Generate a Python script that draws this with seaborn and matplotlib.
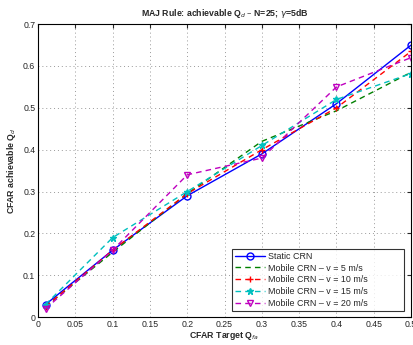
import matplotlib
matplotlib.use("Agg")
import matplotlib.pyplot as plt
import seaborn as sns
import pandas as pd

# datos
q_fa = [0.01, 0.1, 0.2, 0.3, 0.4, 0.5]
static_crn = [0.03, 0.16, 0.29, 0.39, 0.51, 0.65]
mobile_5 = [0.025, 0.155, 0.295, 0.42, 0.493, 0.585]
mobile_10 = [0.025, 0.16, 0.295, 0.40, 0.50, 0.635]
mobile_15 = [0.03, 0.19, 0.30, 0.41, 0.52, 0.582]
mobile_20 = [0.02, 0.16, 0.34, 0.38, 0.55, 0.62]

series = [
    ('Static CRN', static_crn, 'blue', '-', 'o'),
    ('Mobile CRN – v = 5 m/s', mobile_5, 'green', '--', None),
    ('Mobile CRN – v = 10 m/s', mobile_10, 'red', '--', '+'),
    ('Mobile CRN – v = 15 m/s', mobile_15, 'c', '--', '*'),
    ('Mobile CRN – v = 20 m/s', mobile_20, 'm', '--', 'v'),
]

sns.set_style('white')
plt.rcParams['font.family'] = ['Liberation Sans', 'DejaVu Sans']

fig = plt.figure(figsize=(4.14, 3.45), dpi=100)
ax = fig.add_axes([0.092, 0.081, 0.901, 0.849])

for name, vals, color, ls, mk in series:
    df = pd.DataFrame({'x': q_fa, 'y': vals})
    line = sns.lineplot(data=df, x='x', y='y', ax=ax, color=color, linestyle=ls,
                        marker=mk, markersize=5,
                        markerfacecolor='none' if mk in ('o', 'v') else color,
                        markeredgecolor=color, markeredgewidth=1, linewidth=1,
                        label=name).lines[-1]
    if ls == '--':
        line.set_dashes((4, 3))

ax.set_xlim(0, 0.5)
ax.set_ylim(0, 0.7)
ax.set_xticks([0, 0.05, 0.1, 0.15, 0.2, 0.25, 0.3, 0.35, 0.4, 0.45, 0.5])
ax.set_xticklabels(['0', '0.05', '0.1', '0.15', '0.2', '0.25', '0.3', '0.35', '0.4', '0.45', '0.5'])
ax.set_yticks([0, 0.1, 0.2, 0.3, 0.4, 0.5, 0.6, 0.7])
ax.set_yticklabels(['0', '0.1', '0.2', '0.3', '0.4', '0.5', '0.6', '0.7'])
ax.tick_params(direction='in', labelsize=6.3, length=3, top=True, right=True, pad=2)
ax.grid(True, linestyle=(0, (1, 3)), color='#999999', linewidth=0.7)
for s in ax.spines.values():
    s.set_color('black')
    s.set_linewidth(0.8)

ax.set_xlabel('CFAR Target Q$_{fa}$', fontsize=6.3, fontweight='bold', labelpad=1)
ax.set_ylabel('CFAR achievable Q$_d$', fontsize=6.3, fontweight='bold', labelpad=4)
ax.set_title('MAJ Rule: achievable Q$_d$ – N=25; $\\gamma$=5dB', fontsize=6.3, fontweight='bold', pad=6)

leg = ax.legend(loc='lower left', mode='expand', fontsize=6.4, frameon=True, fancybox=False,
                edgecolor='black', handlelength=3.4, handletextpad=0.3,
                borderpad=0.35, borderaxespad=0, labelspacing=0.32,
                numpoints=1, bbox_to_anchor=(0.52, 0.02, 0.46, 0.2))
leg.get_frame().set_linewidth(0.8)

fig.savefig('out.png', dpi=100)
